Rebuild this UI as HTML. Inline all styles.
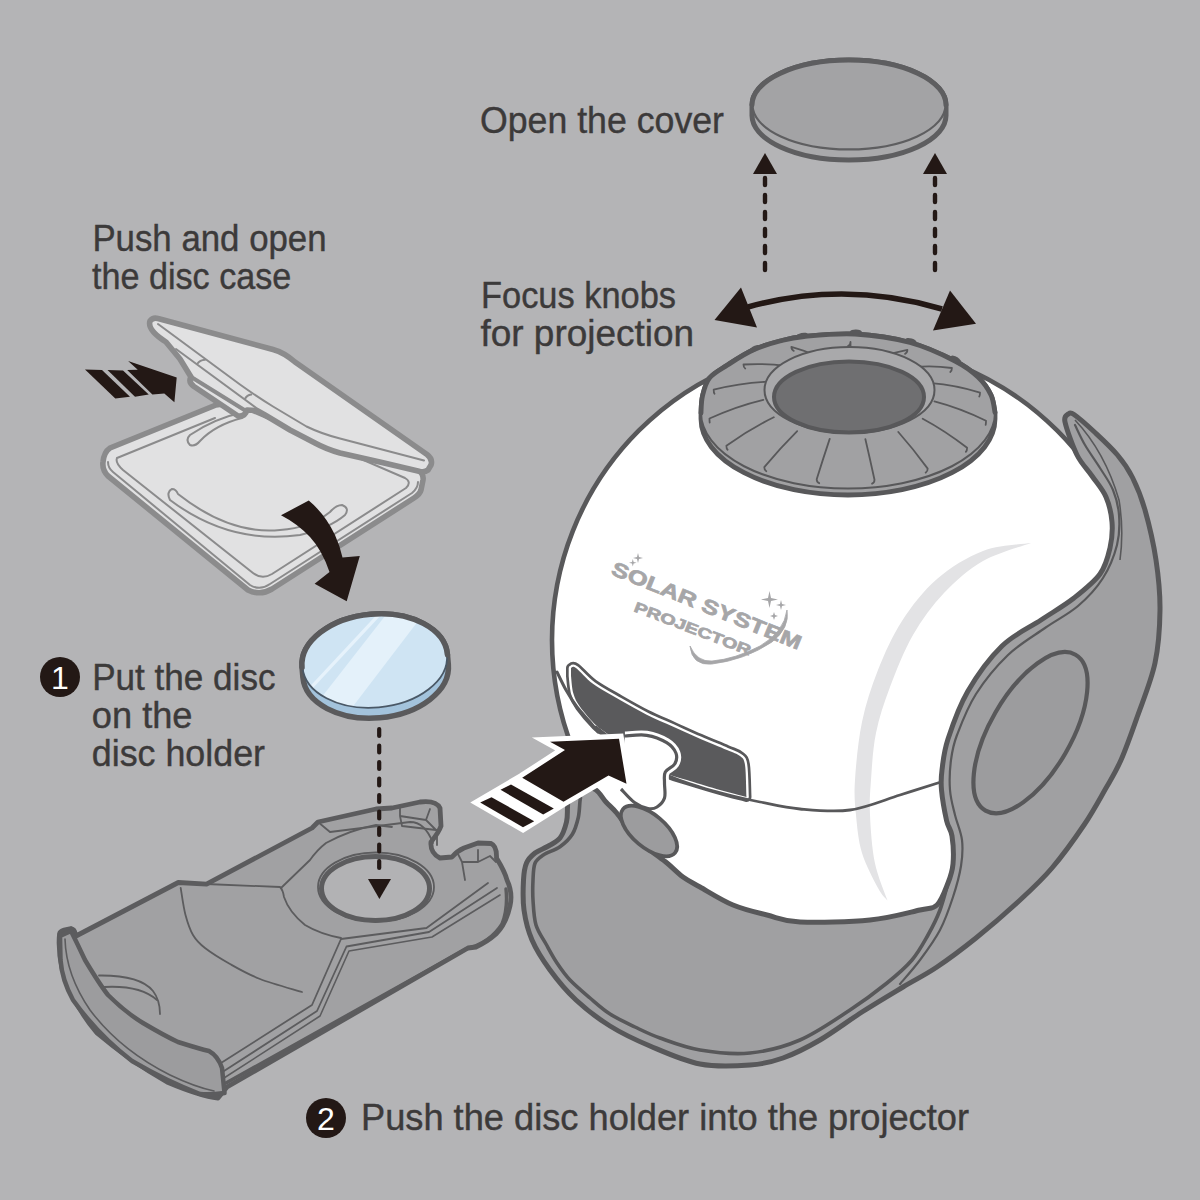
<!DOCTYPE html>
<html><head><meta charset="utf-8"><title>Solar System Projector</title>
<style>
html,body{margin:0;padding:0;background:#b4b4b6;}
body{width:1200px;height:1200px;overflow:hidden;}
svg{display:block;}
text{font-family:"Liberation Sans",sans-serif;}
</style></head>
<body>
<svg width="1200" height="1200" viewBox="0 0 1200 1200">
<rect x="0" y="0" width="1200" height="1200" fill="#b4b4b6"/>

<!-- ===== TEXT ===== -->
<g fill="#3c3a3a" font-size="36" stroke="#3c3a3a" stroke-width="0.4">
<text x="480" y="132.5" textLength="244" lengthAdjust="spacingAndGlyphs">Open the cover</text>
<text x="481" y="307.5" textLength="195" lengthAdjust="spacingAndGlyphs">Focus knobs</text>
<text x="480.5" y="346" textLength="213.5" lengthAdjust="spacingAndGlyphs">for projection</text>
<text x="92.4" y="251.2" textLength="234.2" lengthAdjust="spacingAndGlyphs">Push and open</text>
<text x="92" y="289" textLength="199.3" lengthAdjust="spacingAndGlyphs">the disc case</text>
<text x="92.2" y="689.7" textLength="183.3" lengthAdjust="spacingAndGlyphs">Put the disc</text>
<text x="91.8" y="728" textLength="100.7" lengthAdjust="spacingAndGlyphs">on the</text>
<text x="91.8" y="765.5" textLength="173.2" lengthAdjust="spacingAndGlyphs">disc holder</text>
<text x="361" y="1129.5" textLength="608" lengthAdjust="spacingAndGlyphs">Push the disc holder into the projector</text>
</g>
<g>
<circle cx="60" cy="677" r="20" fill="#231815"/>
<text x="60" y="689" fill="#fff" font-size="32" text-anchor="middle">1</text>
<circle cx="326" cy="1118" r="20" fill="#231815"/>
<text x="326" y="1130" fill="#fff" font-size="32" text-anchor="middle">2</text>
</g>

<!-- ===== COVER ===== -->
<g stroke="#5e5e60" stroke-linejoin="round">
<path d="M752,105 A97,45 0 0 1 946,105 L946,115.5 A97,44.5 0 0 1 752,115.5 Z" fill="#a9a9ab" stroke-width="5"/>
<ellipse cx="849" cy="105" rx="96.5" ry="44.5" fill="#a3a3a5" stroke="none"/>
<path d="M752.5,105 A96.5,44.5 0 0 0 945.5,105" fill="none" stroke-width="2.2"/>
<path d="M752,105 A97,45 0 0 1 946,105" fill="none" stroke-width="5" stroke-linecap="round"/>
</g>
<!-- cover arrows -->
<g fill="#231815" stroke="#231815">
<path d="M765,153 L753,174 L777,174 Z" stroke="none"/>
<path d="M935,153 L923,174 L947,174 Z" stroke="none"/>
<path d="M765,178 V272" stroke-width="4.4" stroke-dasharray="7 10" stroke-linecap="round" fill="none"/>
<path d="M935,178 V272" stroke-width="4.4" stroke-dasharray="7 10" stroke-linecap="round" fill="none"/>
<path d="M748,307 Q845,280 942,309" fill="none" stroke-width="5.5"/>
<path d="M714.5,320 L741,287.5 L757,327.5 Z" stroke="none"/>
<path d="M976,323.75 L950,290.5 L933,330.5 Z" stroke="none"/>
</g>

<!-- ===== DISC CASE ===== -->
<g stroke="#8b8b8c" stroke-linejoin="round" stroke-linecap="round" fill="#e1e1e2">
<!-- base -->
<path d="M110,448 L216,405 L250,400 L418,470 Q424,474 423,480 L421,490 Q420,494 414,498 L272,589 Q260,596 248,590 L108,476 Q102,470 103,462 Q104,452 110,448 Z" stroke-width="5.6"/>
<path d="M108,462 Q108,468 113,472 L250,585 Q260,591 270,584 L412,493 Q418,488 418,482" fill="none" stroke-width="2"/>
<path d="M117,458 L215,418 M250,411 L405,478 Q412,482 406,488 L272,574 Q262,580 253,573 L123,470 Q115,463 117,458" fill="none" stroke-width="2"/>
<path d="M172,489 Q166,492 170,500 Q230,545 300,535 Q330,528 345,515 Q350,508 342,505 Q336,505 330,512 Q310,528 280,530 Q230,535 178,494 Q176,489 172,489 Z" fill="none" stroke-width="2"/>
<path d="M190,435 Q185,440 190,445 Q195,447 200,441 Q215,425 242,418 L245,412 Q215,418 190,435 Z" fill="none" stroke-width="2"/>
<!-- lid -->
<path d="M150,321 Q153,317 158,318.5 L273,349.5 Q284,352.5 295,362 L427,454.5 Q433,459 431,465 L428,470 Q425,472.5 420,471.5 L382,462.5 L340,453 Q326,449 315,443 L290,430 L265,415 L257,410.5 L247,410 Q245,417 238,416 L194,386.5 Q188,382 191,377 L180,359 L166,342 Q147,330 150,321 Z" stroke-width="5.6"/>
<path d="M158,324 L240,384.5 Q256,396 273,406.5 L306.5,426.5 Q322,434 340,438.5 L424,460.5" fill="none" stroke-width="2"/>
<path d="M176,349 L257,408.5 M197,364.3 Q200,360 205,359.8 M244.8,399.2 Q247,395 251.2,394.6" fill="none" stroke-width="2"/>
<path d="M192,377.5 L246,411" fill="none" stroke-width="4"/>
</g>
<!-- case arrows -->
<g fill="#231815">
<path d="M85,369.5 L102,370.1 L130,396.7 L115.3,398.5 Z"/>
<path d="M107.5,369.9 L123,370.6 L148.75,394.4 L135,396.7 Z"/>
<path d="M127.2,370.1 L137.75,369.7 L128.1,361 L176.7,377.5 L174.4,402.2 L164.3,393.5 L152.4,394.4 Z"/>
<path d="M281,515.2 L308.75,500.6 Q325,514 335,535 Q340,546 342.5,557.5 L359.8,556 L346.7,601.2 L314.6,583.75 L329.5,572 Q322,550 310,537 Q298,524 281,515.2 Z"/>
</g>

<!-- ===== DISC ===== -->
<defs>
<clipPath id="discface"><ellipse cx="375" cy="661" rx="72" ry="46.5"/></clipPath>
</defs>
<g stroke-linejoin="round" transform="rotate(-5 375 664)">
<path d="M302,661 A73,47 0 0 1 448,661 L448,671 A73,47 0 0 1 302,671 Z" fill="#a3c3dc" stroke="#5a5a5c" stroke-width="5.5"/>
<ellipse cx="375" cy="661" rx="72.5" ry="46.5" fill="#cfe4f3"/>
<g clip-path="url(#discface)">
<path d="M300,688 L380,616 L385,616 L305,688 Z" fill="#e6f2fb"/>
<path d="M312,700 L392,614 L428,618 L346,708 Z" fill="#e4f1fa"/>
</g>
<path d="M302.5,661 A72.5,46.5 0 0 0 447.5,661" fill="none" stroke="#4a5866" stroke-width="1.8"/>
<path d="M302,661 A73,47 0 0 1 448,661" fill="none" stroke="#5a5a5c" stroke-width="5.5" stroke-linecap="round"/>
</g>
<!-- ===== TRAY ===== -->
<g stroke="#5c5c5e" stroke-linejoin="round" stroke-linecap="round">
<path d="M59.5,934 Q60,931 64,930 L71,928.5 Q74.5,929.5 75,933 L76,936 L178.3,882.5 L206.5,884.2 L312,828 L318,822 L376,809 L392,808 L420,802 Q436,800 440,808 L441,826 Q439,832 431,842 Q430,853 440,858 L452,857 Q457,851 464,848 L478,843 L491,843.5 Q497,846 496.5,858 Q505,872 507,880 Q513,893 510,906 Q506,924 496,934 Q487,942 476,947 L468,948 L227,1087 L218,1098 Q200,1096 167,1082 Q130,1061 97,1033 Q73,1005 62,968 Q58,950 59.5,934 Z" fill="#a1a1a3" stroke-width="4.8"/>
<!-- front handle face -->
<path d="M71,931 Q78,945 85,960 Q100,985 108,995 Q125,1012 143,1023 Q165,1036 178,1042 Q200,1049 209,1051 Q218,1056 222,1068 L224.5,1093 Q210,1095 200,1094 Q168,1082 132,1061 Q98,1035 73,1000 Q62,980 60.5,960 L60,936 Z" fill="#9c9c9e" stroke-width="4.5"/>
<path d="M65,939 Q66,975 90,1010 Q120,1050 170,1075 Q195,1087 214,1091" fill="none" stroke-width="1.6"/>
<!-- top surface lines -->
<path d="M180.7,888.0 C181.5,892.5 183.4,907.2 185.5,915.0 C187.6,922.8 189.8,929.5 193.0,935.0 C196.2,940.5 198.8,943.2 205.0,948.0 C211.2,952.8 220.8,958.8 230.0,964.0 C239.2,969.2 248.0,974.3 260.0,979.0 C272.0,983.7 295.0,989.8 302.0,992.0" fill="none" stroke-width="1.8"/>
<path d="M99,975.5 Q140,975 153,991 Q160,1000 160,1014" fill="none" stroke-width="1.8"/>
<path d="M104,987 Q140,985 157,1000" fill="none" stroke-width="1.8"/>
<path d="M206,884 L280,887 Q283,890 284,897 Q289,912 305,925 Q320,934 341,938" fill="none" stroke-width="1.8"/>
<path d="M281,888 L310,860 Q317,850 326,843 Q350,830 376,825 L392,827 M341,939 L426.5,928 L488,883" fill="none" stroke-width="1.8"/>
<path d="M221,1063 L312,1005 L341,939 M224,1071 L317,1011 L346.5,946.5 L429,932 L497,888" fill="none" stroke-width="1.8"/>
<path d="M224,1078 L320,1016 L349,951 L432,937 L500,895" fill="none" stroke-width="1.6"/>
<path d="M226,1083 L466,949 M466,949 Q490,943 502,924 Q508,909 506,889" fill="none" stroke-width="3.4"/>
<!-- hinge tabs -->
<path d="M400,806 L400,816 L426,820 L430,809 M400,816 L402,826 L436,830 M426,820 L436,830 M437,830 L437,845" fill="none" stroke-width="1.8"/>
<path d="M458,854 L462,862 L478,862 L478,850 M462,862 L465,880 M478,862 L490,856 L496,862" fill="none" stroke-width="1.8"/>
<path d="M318,822 L330,832 L410,822 Q425,822 433,843" fill="none" stroke-width="1.8"/>
<!-- hole -->
<ellipse cx="376" cy="887" rx="58" ry="34.5" fill="#a8a8aa" stroke-width="1.8"/>
<ellipse cx="375.5" cy="888.5" rx="54" ry="32" fill="#b2b2b4" stroke-width="5"/>
</g>
<path d="M379.2,729 V872" stroke="#231815" stroke-width="4.2" stroke-dasharray="7 9.5" stroke-linecap="round" fill="none"/>
<path d="M379.4,899 L368,879 L391,879 Z" fill="#231815"/>

<!-- ===== PROJECTOR ===== -->
<circle cx="848" cy="640" r="296" fill="#ffffff" stroke="#58585a" stroke-width="4.6"/>
<path d="M1031.0,543.0 C1023.0,544.3 998.7,545.0 983.0,551.0 C967.3,557.0 950.5,567.3 937.0,579.0 C923.5,590.7 911.8,605.8 902.0,621.0 C892.2,636.2 884.7,653.2 878.0,670.0 C871.3,686.8 865.8,703.7 862.0,722.0 C858.2,740.3 856.0,764.5 855.0,780.0 C854.0,795.5 854.8,802.8 856.0,815.0 C857.2,827.2 858.3,840.8 862.0,853.0 C865.7,865.2 873.8,880.1 878.0,888.0 C882.2,895.9 885.9,898.5 887.5,900.6 C885.4,894.3 877.7,876.9 874.8,862.6 C871.9,848.3 870.6,828.8 870.0,815.0 C869.4,801.2 870.0,793.7 871.0,780.0 C872.0,766.3 872.8,748.5 876.0,733.0 C879.2,717.5 883.8,703.3 890.0,687.0 C896.2,670.7 904.0,650.7 913.0,635.0 C922.0,619.3 932.3,605.3 944.0,593.0 C955.7,580.7 968.5,569.3 983.0,561.0 C997.5,552.7 1023.0,546.0 1031.0,543.0 Z" fill="#e3e3e5"/>
<g fill="#a6a6a8" stroke="#a6a6a8" stroke-width="0.7" font-family="Liberation Sans, sans-serif" font-weight="bold">
<text transform="translate(610,574) rotate(22)" font-size="20" textLength="203" lengthAdjust="spacingAndGlyphs">SOLAR SYSTEM</text>
<text transform="translate(633,611) rotate(21)" font-size="14.5" textLength="124" lengthAdjust="spacingAndGlyphs">PROJECTOR</text>
</g>
<path d="M690,646 Q692,666 712,664 Q745,660 772,642 Q790,628 787,610 Q784,632 760,646 Q735,659 712,661 Q697,662 690,646 Z" fill="#a6a6a8" stroke="#a6a6a8" stroke-width="0.8"/>
<path d="M768,598 l1.5,-7 l1.5,7 l7,1.5 l-7,1.5 l-1.5,7 l-1.5,-7 l-7,-1.5 Z M780,604 l1,-4 l1,4 l4,1 l-4,1 l-1,4 l-1,-4 l-4,-1 Z M773,615 l1,-3 l1,3 l3,1 l-3,1 l-1,3 l-1,-3 l-3,-1 Z M637,557 l1,-4 l1,4 l4,1 l-4,1 l-1,4 l-1,-4 l-4,-1 Z M632,562 l0.8,-3 l0.8,3 l3,0.8 l-3,0.8 l-0.8,3 l-0.8,-3 l-3,-0.8 Z" fill="#a6a6a8"/>
<path d="M571.0,668.0 C571.8,668.0 572.3,665.3 576.0,668.0 C579.7,670.7 586.0,678.7 593.3,684.0 C600.6,689.3 611.1,694.9 620.0,700.0 C628.9,705.1 637.8,710.2 646.7,714.7 C655.6,719.2 664.4,722.7 673.3,726.7 C682.2,730.7 691.0,734.8 700.0,738.7 C709.0,742.6 720.3,747.1 727.0,750.0 C733.7,752.9 737.0,753.5 740.0,756.0 C743.0,758.5 743.9,758.2 745.0,765.0 C746.1,771.8 746.2,791.7 746.5,797.0 C742.1,795.8 729.4,792.7 720.0,790.0 C710.6,787.3 698.7,783.7 690.0,781.0 C681.3,778.3 676.3,777.5 668.0,774.0 C659.7,770.5 650.2,766.8 640.0,760.0 C629.8,753.2 614.0,739.1 606.7,733.3 C599.4,727.5 600.5,729.7 596.0,725.3 C591.5,720.9 583.8,712.0 580.0,706.7 C576.2,701.4 574.8,698.4 573.3,693.3 C571.8,688.2 571.4,678.9 571.0,676.0 Z" fill="#ffffff" stroke="#58585a" stroke-width="10" stroke-linejoin="round"/>
<path d="M571.0,668.0 C571.8,668.0 572.3,665.3 576.0,668.0 C579.7,670.7 586.0,678.7 593.3,684.0 C600.6,689.3 611.1,694.9 620.0,700.0 C628.9,705.1 637.8,710.2 646.7,714.7 C655.6,719.2 664.4,722.7 673.3,726.7 C682.2,730.7 691.0,734.8 700.0,738.7 C709.0,742.6 720.3,747.1 727.0,750.0 C733.7,752.9 737.0,753.5 740.0,756.0 C743.0,758.5 743.9,758.2 745.0,765.0 C746.1,771.8 746.2,791.7 746.5,797.0 C742.1,795.8 729.4,792.7 720.0,790.0 C710.6,787.3 698.7,783.7 690.0,781.0 C681.3,778.3 676.3,777.5 668.0,774.0 C659.7,770.5 650.2,766.8 640.0,760.0 C629.8,753.2 614.0,739.1 606.7,733.3 C599.4,727.5 600.5,729.7 596.0,725.3 C591.5,720.9 583.8,712.0 580.0,706.7 C576.2,701.4 574.8,698.4 573.3,693.3 C571.8,688.2 571.4,678.9 571.0,676.0 Z" fill="#ffffff" stroke="#ffffff" stroke-width="4.6" stroke-linejoin="round"/>
<path d="M571.0,668.0 C571.8,668.0 572.3,665.3 576.0,668.0 C579.7,670.7 586.0,678.7 593.3,684.0 C600.6,689.3 611.1,694.9 620.0,700.0 C628.9,705.1 637.8,710.2 646.7,714.7 C655.6,719.2 664.4,722.7 673.3,726.7 C682.2,730.7 691.0,734.8 700.0,738.7 C709.0,742.6 720.3,747.1 727.0,750.0 C733.7,752.9 737.0,753.5 740.0,756.0 C743.0,758.5 743.9,758.2 745.0,765.0 C746.1,771.8 746.2,791.7 746.5,797.0 C742.1,795.8 729.4,792.7 720.0,790.0 C710.6,787.3 698.7,783.7 690.0,781.0 C681.3,778.3 676.3,777.5 668.0,774.0 C659.7,770.5 650.2,766.8 640.0,760.0 C629.8,753.2 614.0,739.1 606.7,733.3 C599.4,727.5 600.5,729.7 596.0,725.3 C591.5,720.9 583.8,712.0 580.0,706.7 C576.2,701.4 574.8,698.4 573.3,693.3 C571.8,688.2 571.4,678.9 571.0,676.0 Z" fill="#5a5a5c"/>
<path d="M596.0,727.0 C600.0,730.0 611.8,739.5 620.0,745.0 C628.2,750.5 637.0,754.9 645.0,760.0 C653.0,765.1 658.8,771.0 668.0,775.5 C677.2,780.0 689.2,783.6 700.0,787.0 C710.8,790.4 723.0,793.5 733.0,796.0 C743.0,798.5 748.8,799.8 760.0,802.0 C771.2,804.2 785.0,807.7 800.0,809.0 C815.0,810.3 833.3,812.3 850.0,810.0 C866.7,807.7 884.8,799.7 900.0,795.0 C915.2,790.3 934.2,784.2 941.0,782.0" fill="none" stroke="#58585a" stroke-width="2.8" stroke-linecap="round"/>
<path d="M557.0,672.0 C558.5,675.0 562.7,684.2 566.0,690.0 C569.3,695.8 573.0,701.7 577.0,707.0 C581.0,712.3 586.5,717.8 590.0,722.0 C593.5,726.2 596.7,730.3 598.0,732.0" fill="none" stroke="#58585a" stroke-width="3" stroke-linecap="round"/>
<path d="M625.0,736.0 C628.6,735.9 639.8,734.2 646.7,735.3 C653.7,736.4 661.8,739.7 666.7,742.7 C671.6,745.7 674.7,749.8 676.0,753.3 C677.3,756.8 676.5,760.9 674.7,764.0 C672.9,767.1 667.0,768.8 665.3,772.0 C663.6,775.2 664.6,778.7 664.5,783.0 C664.4,787.3 665.8,794.0 664.5,798.0 C663.2,802.0 659.8,805.2 657.0,807.0 C654.2,808.8 651.8,809.2 648.0,808.5 C644.2,807.8 639.0,805.8 634.5,802.5 C630.0,799.2 623.2,791.2 621.0,789.0" fill="#ffffff" stroke="#ffffff" stroke-width="9" stroke-linejoin="round"/>
<path d="M625.0,736.0 C628.6,735.9 639.8,734.2 646.7,735.3 C653.7,736.4 661.8,739.7 666.7,742.7 C671.6,745.7 674.7,749.8 676.0,753.3 C677.3,756.8 676.5,760.9 674.7,764.0 C672.9,767.1 667.0,768.8 665.3,772.0 C663.6,775.2 664.6,778.7 664.5,783.0 C664.4,787.3 665.8,794.0 664.5,798.0 C663.2,802.0 659.8,805.2 657.0,807.0 C654.2,808.8 651.8,809.2 648.0,808.5 C644.2,807.8 639.0,805.8 634.5,802.5 C630.0,799.2 623.2,791.2 621.0,789.0" fill="#ffffff" stroke="#58585a" stroke-width="3.2" stroke-linejoin="round"/>
<g stroke="#58585a" stroke-linejoin="round" stroke-linecap="round">
<path d="M701.0,413.0 C701.2,410.2 701.1,401.8 702.5,396.0 C703.9,390.2 705.3,383.2 709.5,378.0 C713.7,372.8 720.2,369.7 727.5,365.0 C734.8,360.3 744.2,354.0 753.0,350.0 C761.8,346.0 771.5,343.2 780.0,341.0 C788.5,338.8 791.5,337.7 804.0,336.5 C816.5,335.3 837.3,333.0 855.0,334.0 C872.7,335.0 893.3,338.0 910.0,342.5 C926.7,347.0 943.7,355.2 955.0,361.0 C966.3,366.8 972.0,371.3 978.0,377.0 C984.0,382.7 988.2,389.1 991.0,395.0 C993.8,400.9 994.3,409.6 995.0,412.5 L995,419 A147,76 0 0 1 701,419 Z" fill="#a1a1a3" stroke-width="4.8"/>
<path d="M701.0,413.0 C701.2,410.2 701.1,401.8 702.5,396.0 C703.9,390.2 705.3,383.2 709.5,378.0 C713.7,372.8 720.2,369.7 727.5,365.0 C734.8,360.3 744.2,354.0 753.0,350.0 C761.8,346.0 771.5,343.2 780.0,341.0 C788.5,338.8 791.5,337.7 804.0,336.5 C816.5,335.3 837.3,333.0 855.0,334.0 C872.7,335.0 893.3,338.0 910.0,342.5 C926.7,347.0 943.7,355.2 955.0,361.0 C966.3,366.8 972.0,371.3 978.0,377.0 C984.0,382.7 988.2,389.1 991.0,395.0 C993.8,400.9 994.3,409.6 995.0,412.5 A147,76 0 0 1 701,412.5 Z" fill="#a1a1a3" stroke-width="2"/>
<path d="M701.0,413.0 C701.2,410.2 701.1,401.8 702.5,396.0 C703.9,390.2 705.3,383.2 709.5,378.0 C713.7,372.8 720.2,369.7 727.5,365.0 C734.8,360.3 744.2,354.0 753.0,350.0 C761.8,346.0 771.5,343.2 780.0,341.0 C788.5,338.8 791.5,337.7 804.0,336.5 C816.5,335.3 837.3,333.0 855.0,334.0 C872.7,335.0 893.3,338.0 910.0,342.5 C926.7,347.0 943.7,355.2 955.0,361.0 C966.3,366.8 972.0,371.3 978.0,377.0 C984.0,382.7 988.2,389.1 991.0,395.0 C993.8,400.9 994.3,409.6 995.0,412.5" fill="none" stroke-width="4.8"/>
<path d="M865.4,439.2 Q870.0,458.9 874.5,479.7 Q874.5,482.7 872.1,483.7 M898.3,432.0 Q913.0,448.6 927.7,468.6 Q927.7,471.6 925.7,472.6 M922.7,418.7 Q944.9,430.6 967.1,447.8 Q967.1,450.8 965.9,451.8 M934.4,401.4 Q960.2,408.1 986.0,420.8 Q986.0,423.8 985.7,424.8 M931.2,383.1 Q955.6,385.0 980.0,392.6 Q980.0,395.6 979.3,396.6 M913.9,367.1 Q932.9,365.3 951.9,368.0 Q951.9,371.0 950.3,372.0 M885.3,356.1 Q896.4,351.7 907.4,349.8 Q907.4,352.8 905.1,353.8 M850.5,352.0 Q850.5,347.0 850.5,342.0 Q850.5,345.0 848.0,346.0 M815.4,355.5 Q803.4,350.0 791.4,346.8 Q791.4,349.8 793.7,350.8 M786.1,366.0 Q764.8,363.1 743.5,364.5 Q743.5,367.5 745.2,368.5 M767.7,381.7 Q740.7,382.9 713.7,389.7 Q713.7,392.7 714.5,393.7 M763.3,399.8 Q736.4,406.2 709.5,418.5 Q709.5,421.5 709.7,422.5 M773.8,417.3 Q750.1,428.9 726.4,445.7 Q726.4,448.7 727.6,449.7 M797.2,431.1 Q780.8,447.4 764.3,467.2 Q764.3,470.2 766.3,471.2 M829.7,438.9 Q823.2,458.4 816.7,479.2 Q816.7,482.2 819.2,483.2" fill="none" stroke-width="1.8"/>
<ellipse cx="754.0" cy="349.0" rx="6" ry="2.6" transform="rotate(-33.0 754.0 349.0)" fill="#58585a" stroke="none"/><ellipse cx="802.0" cy="335.5" rx="6" ry="2.6" transform="rotate(-12.0 802.0 335.5)" fill="#58585a" stroke="none"/><ellipse cx="856.0" cy="332.0" rx="6" ry="2.6" transform="rotate(2.0 856.0 332.0)" fill="#58585a" stroke="none"/><ellipse cx="911.0" cy="341.0" rx="6" ry="2.6" transform="rotate(17.0 911.0 341.0)" fill="#58585a" stroke="none"/><ellipse cx="956.0" cy="359.5" rx="6" ry="2.6" transform="rotate(33.0 956.0 359.5)" fill="#58585a" stroke="none"/>
<ellipse cx="849.5" cy="390" rx="85" ry="43" fill="#a9a9ab" stroke-width="2"/>
<ellipse cx="849" cy="397" rx="75" ry="35.5" fill="#6f6f71" stroke-width="4"/>
</g>
<path d="M1068.0,414.0 C1069.0,414.1 1069.5,411.4 1074.0,414.5 C1078.5,417.6 1087.8,425.8 1095.0,432.5 C1102.2,439.2 1111.2,447.5 1117.5,455.0 C1123.8,462.5 1127.9,468.3 1132.5,477.5 C1137.1,486.7 1141.1,496.2 1145.0,510.0 C1148.9,523.8 1153.5,543.3 1156.0,560.0 C1158.5,576.7 1160.2,592.8 1160.0,610.0 C1159.8,627.2 1158.8,645.1 1155.0,663.0 C1151.2,680.9 1142.7,701.3 1137.0,717.5 C1131.3,733.7 1126.2,748.2 1121.0,760.0 C1115.8,771.8 1112.2,777.2 1106.0,788.0 C1099.8,798.8 1093.0,811.7 1084.0,825.0 C1075.0,838.3 1062.8,855.3 1052.0,868.0 C1041.2,880.7 1031.7,889.3 1019.0,901.0 C1006.3,912.7 989.7,927.0 976.0,938.0 C962.3,949.0 949.2,958.8 937.0,967.0 C924.8,975.2 915.5,979.5 903.0,987.0 C890.5,994.5 875.8,1003.2 862.0,1012.0 C848.2,1020.8 833.2,1032.3 820.0,1040.0 C806.8,1047.7 794.7,1053.8 783.0,1058.0 C771.3,1062.2 763.8,1064.0 750.0,1065.0 C736.2,1066.0 716.7,1067.2 700.0,1064.0 C683.3,1060.8 665.0,1052.3 650.0,1046.0 C635.0,1039.7 622.3,1033.7 610.0,1026.0 C597.7,1018.3 586.0,1009.3 576.0,1000.0 C566.0,990.7 557.3,980.0 550.0,970.0 C542.7,960.0 536.3,950.0 532.0,940.0 C527.7,930.0 525.4,920.0 524.0,910.0 C522.6,900.0 523.1,887.8 523.5,880.0 C523.9,872.2 524.6,867.5 526.5,863.0 C528.4,858.5 531.5,855.8 535.0,853.0 C538.5,850.2 543.3,849.0 547.5,846.5 C551.7,844.0 556.8,842.1 560.0,838.0 C563.2,833.9 565.2,827.2 566.5,822.0 C567.8,816.8 567.2,812.0 567.5,807.0 C567.8,802.0 567.9,794.5 568.0,792.0 C570.3,791.0 577.3,786.3 582.0,786.0 C586.7,785.7 592.0,787.3 596.0,790.0 C600.0,792.7 602.5,798.2 606.0,802.0 C609.5,805.8 612.2,807.5 616.7,813.0 C621.2,818.5 627.5,828.8 633.0,835.0 C638.5,841.2 644.3,845.3 650.0,850.0 C655.7,854.7 661.5,858.5 667.0,863.0 C672.5,867.5 677.5,873.0 683.0,877.0 C688.5,881.0 691.7,882.3 700.0,887.0 C708.3,891.7 721.8,900.3 733.0,905.0 C744.2,909.7 755.8,912.2 767.0,915.0 C778.2,917.8 782.8,921.2 800.0,922.0 C817.2,922.8 850.0,922.0 870.0,920.0 C890.0,918.0 908.8,912.5 920.0,910.0 C931.2,907.5 932.3,909.5 937.0,905.0 C941.7,900.5 945.3,889.8 948.0,883.0 C950.7,876.2 952.3,871.8 953.0,864.0 C953.7,856.2 953.1,843.2 952.0,836.0 C950.9,828.8 948.4,828.4 946.6,820.7 C944.9,813.0 942.3,798.5 941.5,790.0 C940.7,781.5 940.9,778.5 942.0,770.0 C943.1,761.5 943.7,752.1 948.0,739.0 C952.3,725.9 958.7,707.0 967.7,691.5 C976.7,676.0 989.8,657.9 1002.0,646.0 C1014.2,634.1 1029.0,628.0 1041.0,620.0 C1053.0,612.0 1064.2,605.7 1074.0,598.0 C1083.8,590.3 1094.0,582.3 1100.0,574.0 C1106.0,565.7 1108.0,556.7 1110.0,548.0 C1112.0,539.3 1112.7,530.5 1112.0,522.0 C1111.3,513.5 1109.3,504.7 1106.0,497.0 C1102.7,489.3 1096.8,483.0 1092.0,476.0 C1087.2,469.0 1081.5,464.0 1077.0,455.0 C1072.5,446.0 1066.5,428.8 1065.0,422.0 C1063.5,415.2 1067.5,415.3 1068.0,414.0 Z" fill="#a0a0a2" stroke="#58585a" stroke-width="5" stroke-linejoin="round"/>
<path d="M580.5,798.0 C580.4,798.5 580.4,797.8 580.0,801.0 C579.6,804.2 579.5,812.0 578.3,817.5 C577.0,823.0 575.5,829.1 572.5,834.0 C569.5,838.9 564.9,843.2 560.0,846.7 C555.1,850.2 547.5,852.2 543.3,855.0 C539.1,857.8 536.7,859.1 535.0,863.3 C533.3,867.5 533.3,873.9 533.0,880.0 C532.7,886.1 532.5,892.5 533.0,900.0 C533.5,907.5 533.8,917.7 536.0,925.0 C538.2,932.3 542.5,937.7 546.0,944.0 C549.5,950.3 553.0,957.0 557.0,963.0 C561.0,969.0 564.5,974.2 570.0,980.0 C575.5,985.8 583.3,992.3 590.0,998.0 C596.7,1003.7 602.5,1009.2 610.0,1014.0 C617.5,1018.8 626.7,1023.0 635.0,1027.0 C643.3,1031.0 649.2,1034.2 660.0,1038.0 C670.8,1041.8 685.0,1047.5 700.0,1050.0 C715.0,1052.5 733.3,1054.7 750.0,1053.0 C766.7,1051.3 783.3,1047.2 800.0,1040.0 C816.7,1032.8 835.5,1019.5 850.0,1010.0 C864.5,1000.5 876.7,991.3 887.0,983.0 C897.3,974.7 905.2,968.0 912.0,960.0 C918.8,952.0 923.3,943.3 928.0,935.0 C932.7,926.7 936.7,918.7 940.0,910.0 C943.3,901.3 946.7,887.5 948.0,883.0" fill="none" stroke="#58585a" stroke-width="3.6" stroke-linecap="round"/>
<path d="M900.0,984.0 C903.3,980.0 913.3,969.0 920.0,960.0 C926.7,951.0 934.5,940.5 940.0,930.0 C945.5,919.5 949.5,907.7 953.0,897.0 C956.5,886.3 959.5,875.5 961.0,866.0 C962.5,856.5 963.0,848.5 962.0,840.0 C961.0,831.5 957.0,823.3 955.0,815.0 C953.0,806.7 950.7,799.2 950.0,790.0 C949.3,780.8 949.8,769.2 951.0,760.0 C952.2,750.8 952.8,746.0 957.0,735.0 C961.2,724.0 967.5,707.3 976.0,694.0 C984.5,680.7 996.5,666.0 1008.0,655.0 C1019.5,644.0 1033.3,636.2 1045.0,628.0 C1056.7,619.8 1068.3,614.3 1078.0,606.0 C1087.7,597.7 1096.5,588.2 1103.0,578.0 C1109.5,567.8 1114.3,555.5 1117.0,545.0 C1119.7,534.5 1119.7,524.2 1119.0,515.0 C1118.3,505.8 1116.2,497.8 1113.0,490.0 C1109.8,482.2 1104.7,475.5 1100.0,468.0 C1095.3,460.5 1089.2,452.2 1085.0,445.0 C1080.8,437.8 1076.7,428.3 1075.0,425.0" fill="none" stroke="#58585a" stroke-width="2.2" stroke-linecap="round"/>
<path d="M1075,420 Q1105,452 1119,500 Q1124,530 1120,560" fill="none" stroke="#58585a" stroke-width="1.6"/>
<ellipse cx="0" cy="0" rx="40.5" ry="90" transform="translate(1030.5,732.7) rotate(30)" fill="#9c9c9e" stroke="#58585a" stroke-width="4.2"/>
<ellipse cx="0" cy="0" rx="34" ry="16.5" transform="translate(649,831) rotate(40)" fill="#9c9c9e" stroke="#58585a" stroke-width="3.8"/>
<path d="M565.0,750.0 L550.0,741.8 L619.0,738.8 L626.5,783.8 L608.5,775.5 L563.5,801.8 L523.0,827.2 L480.2,802.5 L522.2,777.8 Z" fill="#ffffff" stroke="#ffffff" stroke-width="10" stroke-linejoin="miter"/>
<path d="M550.0,741.8 L619.0,738.8 L626.5,783.8 L608.5,775.5 L563.5,801.8 L522.2,777.8 L565.0,750.0 Z" fill="#231815"/>
<path d="M500.5,789.8 L511.0,784.5 L553.8,808.5 L543.2,814.5 Z" fill="#231815"/>
<path d="M480.2,802.5 L491.5,797.2 L534.2,821.2 L523.0,827.2 Z" fill="#231815"/>
</svg>
</body></html>
